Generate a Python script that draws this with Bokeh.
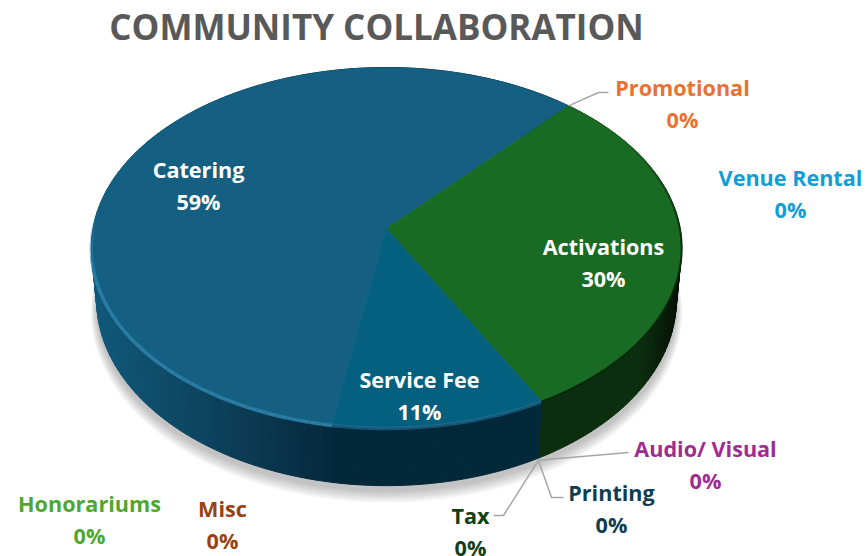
import math
from bokeh.plotting import figure
from bokeh.embed import file_html
from bokeh.resources import INLINE
from bokeh.core.properties import value

title_text = "COMMUNITY COLLABORATION"
categories = ["Catering", "Promotional", "Activations", "Tax", "Printing",
              "Audio/ Visual", "Service Fee", "Venue Rental", "Honorariums", "Misc"]
shares = [59.0, 0, 30.4, 0, 0, 0, 10.6, 0, 0, 0]

# --- styling / layout (not data) ---
W, H = 866, 556
FONT = "Open Sans"
TOP = {"Catering": "#156082", "Activations": "#196B24", "Service Fee": "#05607F"}
LABEL_COL = {"Catering": "#FFFFFF", "Promotional": "#E97132", "Activations": "#FFFFFF",
             "Tax": "#0F4016", "Printing": "#0F3D52", "Audio/ Visual": "#A02B93",
             "Service Fee": "#FFFFFF", "Venue Rental": "#0F9ED5",
             "Honorariums": "#4EA72E", "Misc": "#984214"}
LABEL_POS = {"Catering": (198, 168.5), "Promotional": (682, 86.5), "Activations": (603, 245.5),
             "Tax": (470, 514.5), "Printing": (611, 491.5), "Audio/ Visual": (705, 447.5),
             "Service Fee": (419, 378.5), "Venue Rental": (790, 176.5),
             "Honorariums": (89, 502.5), "Misc": (222, 507.5)}
LEADER = {"Promotional": [(598, 92), (608, 92)],
          "Tax": [(503, 515), (493, 515)],
          "Printing": [(551, 497), (563, 497)],
          "Audio/ Visual": [(628, 452)]}
CX, CY, A, B, K, DEPTH = 386, 228, 293.5, 178, 0.1056, 52
BOTTOM_SCALE = 0.982
START = -48.0  # angle at which Activations begins (screen clockwise, 0 = right)


def proj(deg, depth=0.0, grow=1.0):
    t = math.radians(deg)
    u, v = math.cos(t) * grow, math.sin(t) * grow
    s = 1 / (1 - K * v)
    sx = BOTTOM_SCALE if depth else 1.0
    return CX + A * u * s * sx, CY + B * v * s + depth * s


def mix(c1, c2, f):
    a = [int(c1[i:i + 2], 16) for i in (1, 3, 5)]
    b = [int(c2[i:i + 2], 16) for i in (1, 3, 5)]
    return "#%02x%02x%02x" % tuple(round(x + (y - x) * f) for x, y in zip(a, b))


# slice angles from the values
total = sum(shares)
ang = {}
cur = START - 360 * shares[0] / total
for c, val in zip(categories, shares):
    sweep = 360 * val / total
    ang[c] = (cur, cur + sweep)
    cur += sweep

p = figure(width=W, height=H, x_range=(0, W), y_range=(H, 0), toolbar_location=None,
           output_backend="svg", min_border=0, outline_line_color=None,
           background_fill_color="white", border_fill_color="white")
p.axis.visible = False
p.grid.visible = False

# soft shadow below the body
for i in range(8):
    g = 1.0 + 0.0025 * (8 - i)
    deg = [d * 3 for d in range(121)]
    pts = [proj(d, DEPTH + 4 + (8 - i) * 0.9, g) for d in deg]
    p.patch([q[0] for q in pts], [q[1] for q in pts], fill_color="#000000",
            fill_alpha=0.03, line_color=None)


def wall_color(c, deg):
    x = proj(deg)[0]
    f = max(0.0, min(1.0, (x - 95) / 250))
    if c == "Activations":
        r = max(0.0, (x - 640) / 42)
        return mix("#0B2F0E", "#041006", min(1.0, r))
    if c == "Service Fee":
        return "#03283A"
    if f < 0.6:
        return mix("#10587A", "#0B3B53", f / 0.6)
    return mix("#0B3B53", "#032638", (f - 0.6) / 0.4)


# side wall as thin strips, back to front
strips = []
for c, val in zip(categories, shares):
    if val == 0:
        continue
    a0, a1 = ang[c]
    n = max(2, int((a1 - a0) / 1.5))
    for i in range(n):
        d0 = a0 + (a1 - a0) * i / n
        d1 = a0 + (a1 - a0) * (i + 1) / n
        strips.append((math.sin(math.radians((d0 + d1) / 2)), c, d0, d1))
strips.sort(key=lambda s: s[0])
for _, c, d0, d1 in strips:
    col = wall_color(c, (d0 + d1) / 2)
    q = [proj(d0), proj(d1), proj(d1, DEPTH), proj(d0, DEPTH)]
    p.patch([o[0] for o in q], [o[1] for o in q], fill_color=col, line_color=col, line_width=1)

# top face
for c, val in zip(categories, shares):
    if val == 0:
        continue
    a0, a1 = ang[c]
    n = max(4, int(a1 - a0))
    pts = [(CX, CY)] + [proj(a0 + (a1 - a0) * i / n) for i in range(n + 1)]
    p.patch([q[0] for q in pts], [q[1] for q in pts], fill_color=TOP[c],
            line_color=TOP[c], line_width=0.6)

# bevel highlight on the rim, and dark edge on the right
for c, val in zip(categories, shares):
    if val == 0:
        continue
    a0, a1 = ang[c]
    n = max(4, int((a1 - a0) / 2))
    for i in range(n):
        d0 = a0 + (a1 - a0) * i / n
        d1 = a0 + (a1 - a0) * (i + 1) / n
        dm = (d0 + d1) / 2
        sn = math.sin(math.radians(dm))
        if c == "Activations":
            if math.cos(math.radians(dm)) > 0.2 and sn > -0.55:
                col, w, al = "#0A2A0C", 2.0, min(1.0, (sn + 0.55) * 1.6)
            else:
                continue
        elif sn > -0.1:
            col, w, al = "#2B7FA8", 3.5, min(0.95, (sn + 0.1) * 2.4) * (0.55 if c == "Service Fee" else 1)
        else:
            continue
        t0, t1 = math.radians(d0), math.radians(d1)
        q0, q1 = proj(d0), proj(d1)
        p.line([q0[0], q1[0]], [q0[1] + 1, q1[1] + 1], line_color=col, line_width=w, line_alpha=al)

# leaders for the zero slices
for c, elbow in LEADER.items():
    d = ang[c][0]
    d_depth = 0 if math.sin(math.radians(d)) < 0 else DEPTH + 2
    start = proj(d, d_depth)
    xs = [start[0]] + [e[0] for e in elbow]
    ys = [start[1]] + [e[1] for e in elbow]
    p.line(xs, ys, line_color="#A6A6A6", line_width=1.5)

# labels
for c, val in zip(categories, shares):
    x, y = LABEL_POS[c]
    kw = dict(text_font=value(FONT), text_font_style="bold", text_font_size="21.6px",
              text_align="center", text_baseline="middle", text_color=LABEL_COL[c])
    p.text([x], [y], text=[c], **kw)
    p.text([x], [y + 32], text=[f"{round(val)}%"], **kw)

p.text([376], [26], text=[title_text], text_font=value(FONT), text_font_style="bold",
       text_font_size="35px", text_align="center", text_baseline="middle", text_color="#595959")

open("out.html", "w").write(file_html(p, INLINE))
